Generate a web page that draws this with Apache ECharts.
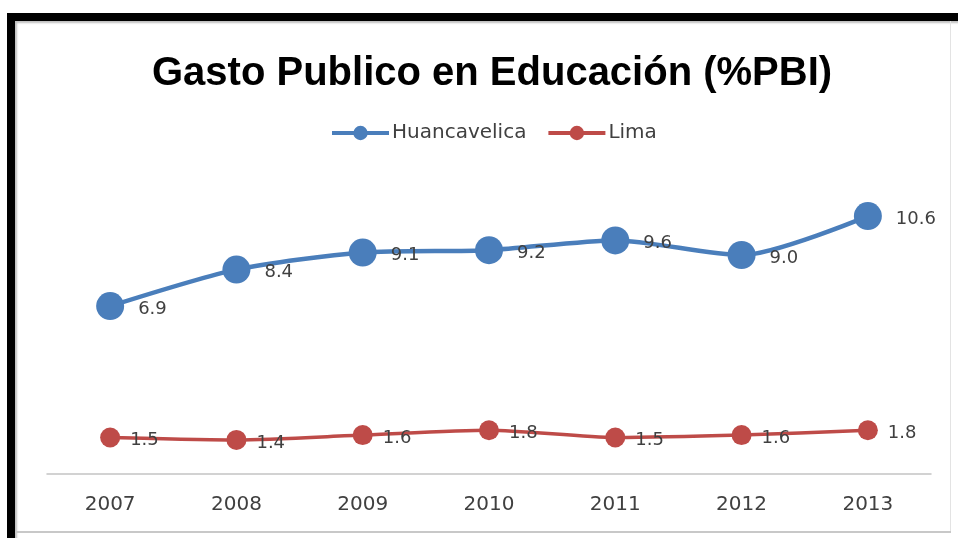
<!DOCTYPE html>
<html>
<head>
<meta charset="utf-8">
<script src="https://cdn.jsdelivr.net/npm/echarts@6/dist/echarts.min.js"></script>
<style>
  html, body { margin: 0; padding: 0; background: #fff; }
  #chart { position: absolute; left: 0; top: 0; width: 958px; height: 538px; }
  #frame {
    position: absolute; left: 7px; top: 13px; width: 951px; height: 525px;
    border-top: 8px solid #000; border-left: 8px solid #000;
    box-shadow: inset 2px 2px 2px rgba(0,0,0,0.25);
    pointer-events: none;
  }
  #edgeRight { position: absolute; left: 950px; top: 21px; width: 1px; height: 511px; background: #e3e3e3; pointer-events: none; }
  #edgeBottom { position: absolute; left: 15px; top: 531px; width: 936px; height: 2px; background: #c8c8c8; pointer-events: none; }
</style>
</head>
<body>
<div id="chart"></div>
<div id="frame"></div>
<div id="edgeRight"></div>
<div id="edgeBottom"></div>
<script>
// Public spending on education as a share of GDP, by region
const years = ['2007', '2008', '2009', '2010', '2011', '2012', '2013'];
const huancavelica = [6.9, 8.4, 9.1, 9.2, 9.6, 9.0, 10.6];
const lima = [1.5, 1.4, 1.6, 1.8, 1.5, 1.6, 1.8];

const titleFont = 'Liberation Sans';
const textFont = 'DejaVu Sans';
const chart = echarts.init(document.getElementById('chart'));

const labelStyle = {
  show: true,
  position: 'right',
  distance: 14,
  offset: [0, 3],
  color: '#404040',
  fontFamily: textFont,
  fontSize: 18,
  formatter: p => p.value.toFixed(1)
};

chart.setOption({
  backgroundColor: 'transparent',
  animation: false,
  title: {
    text: 'Gasto Publico en Educación (%PBI)',
    left: 147,
    top: 49,
    textStyle: { fontFamily: titleFont, fontSize: 40, fontWeight: 'bold', color: '#000' }
  },
  legend: {
    top: 118,
    left: 325,
    itemWidth: 57,
    itemHeight: 18,
    itemGap: 20,
    lineStyle: { width: 4 },
    textStyle: { fontFamily: textFont, fontSize: 20, color: '#404040', padding: [0, 0, 0, -2] },
    data: ['Huancavelica', 'Lima']
  },
  grid: { left: 47, right: 27, top: 182, height: 292, containLabel: false },
  xAxis: {
    type: 'category',
    data: years,
    boundaryGap: true,
    axisLine: { lineStyle: { color: '#c4c4c4', width: 1.5 } },
    axisTick: { show: false },
    axisLabel: { color: '#404040', fontFamily: textFont, fontSize: 20, margin: 21 }
  },
  yAxis: {
    type: 'value',
    min: 0,
    max: 12,
    show: false,
    splitLine: { show: false }
  },
  series: [
    {
      name: 'Huancavelica',
      type: 'line',
      data: huancavelica,
      smooth: 0.25,
      symbol: 'circle',
      symbolSize: 28,
      itemStyle: { color: '#4a7ebb' },
      lineStyle: { width: 4.5, color: '#4a7ebb' },
      label: labelStyle
    },
    {
      name: 'Lima',
      type: 'line',
      data: lima,
      smooth: 0.25,
      symbol: 'circle',
      symbolSize: 20,
      itemStyle: { color: '#be4b48' },
      lineStyle: { width: 3.5, color: '#be4b48' },
      label: Object.assign({}, labelStyle, { distance: 10 })
    }
  ]
});
</script>
</body>
</html>
